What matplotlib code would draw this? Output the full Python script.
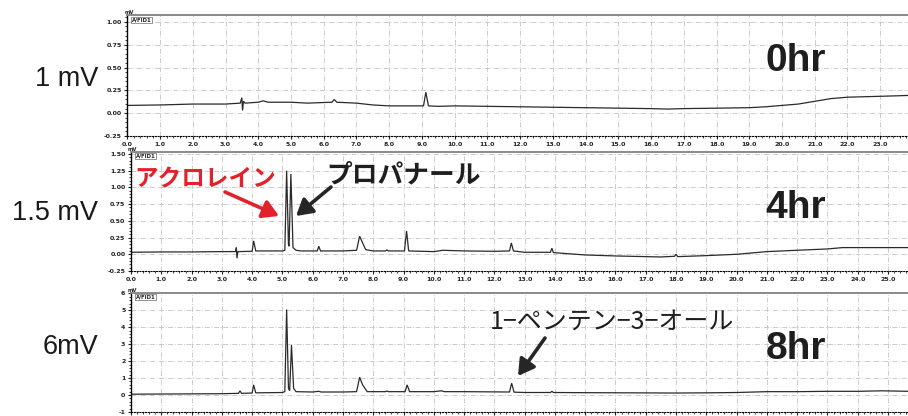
import matplotlib
matplotlib.use("Agg")
import matplotlib.pyplot as plt
from matplotlib.ticker import MultipleLocator, FormatStrFormatter

# ---------------- data ----------------
panel_labels = ["1 mV", "1.5 mV", "6mV"]
time_labels = ["0hr", "4hr", "8hr"]

t0 = [0.0, 1.0, 2.0, 3.0, 3.45, 3.5, 3.52, 3.55, 3.6, 4.0, 4.15, 4.3, 5.0, 5.5,
      6.25, 6.32, 6.4, 7.0, 7.5, 8.0, 8.5, 9.05, 9.12, 9.2, 9.5, 10.0, 11.0, 12.0,
      13.0, 14.0, 15.0, 16.0, 16.5, 17.0, 18.0, 19.0, 19.5, 20.0, 20.5, 21.0, 21.5,
      22.0, 22.5, 23.0, 23.5, 23.9]
s0 = [0.085, 0.09, 0.10, 0.10, 0.11, 0.17, 0.03, 0.13, 0.11, 0.12, 0.135, 0.12, 0.12, 0.11,
      0.12, 0.15, 0.12, 0.11, 0.09, 0.08, 0.08, 0.08, 0.23, 0.08, 0.075, 0.08, 0.075, 0.07,
      0.065, 0.06, 0.055, 0.05, 0.045, 0.05, 0.055, 0.06, 0.07, 0.085, 0.10, 0.13, 0.16,
      0.175, 0.18, 0.185, 0.19, 0.195]

t4 = [0.0, 1.0, 2.0, 3.0, 3.45, 3.48, 3.5, 3.53, 4.0, 4.05, 4.12, 5.0, 5.08, 5.14, 5.2,
      5.22, 5.28, 5.35, 5.45, 5.6, 6.15, 6.2, 6.26, 7.0, 7.45, 7.55, 7.62, 7.75, 8.0,
      8.4, 8.45, 8.5, 9.03, 9.1, 9.17, 10.0, 10.3, 11.0, 12.0, 12.5, 12.56, 12.63, 13.0,
      13.85, 13.9, 13.95, 15.0, 16.0, 17.0, 17.5, 17.95, 18.0, 18.05, 19.0, 20.0, 20.5,
      21.0, 22.0, 23.0, 23.5, 24.0, 25.0, 25.7]
s4 = [0.03, 0.035, 0.035, 0.04, 0.04, 0.10, -0.06, 0.04, 0.045, 0.20, 0.05, 0.05, 0.06, 1.25, 0.15,
      0.12, 1.20, 0.10, 0.06, 0.05, 0.05, 0.12, 0.05, 0.05, 0.06, 0.27, 0.20, 0.07, 0.05,
      0.05, 0.065, 0.05, 0.05, 0.35, 0.05, 0.04, 0.06, 0.05, 0.045, 0.05, 0.17, 0.05, 0.03,
      0.03, 0.09, 0.025, -0.01, -0.025, -0.035, -0.04, -0.03, 0.0, -0.035, -0.02, 0.0, 0.02,
      0.04, 0.06, 0.08, 0.10, 0.10, 0.10, 0.10]

t8 = [0.0, 1.0, 2.0, 3.0, 3.55, 3.6, 3.65, 4.0, 4.05, 4.12, 5.0, 5.08, 5.14, 5.2, 5.24,
      5.3, 5.37, 5.45, 6.0, 6.2, 6.28, 7.0, 7.45, 7.55, 7.65, 7.8, 8.4, 8.45, 8.5, 9.05,
      9.12, 9.2, 10.0, 10.25, 10.35, 11.0, 12.5, 12.57, 12.65, 13.0, 13.85, 13.9, 13.95,
      15.0, 18.0, 19.0, 20.0, 21.0, 22.0, 23.0, 24.0, 24.8, 25.7]
s8 = [0.05, 0.06, 0.07, 0.08, 0.1, 0.25, 0.1, 0.12, 0.6, 0.13, 0.15, 0.2, 5.05, 0.4, 0.25,
      2.95, 0.4, 0.2, 0.18, 0.22, 0.18, 0.18, 0.2, 1.05, 0.6, 0.2, 0.2, 0.24, 0.2, 0.2,
      0.6, 0.2, 0.2, 0.25, 0.2, 0.2, 0.18, 0.7, 0.17, 0.15, 0.15, 0.22, 0.15,
      0.14, 0.12, 0.13, 0.15, 0.2, 0.2, 0.22, 0.22, 0.25, 0.22]

traces = [(t0, s0), (t4, s4), (t8, s8)]
ylims = [(-0.25, 1.07), (-0.25, 1.53), (-1.0, 6.05)]
xmaxs = [23.85, 25.66, 25.66]
ymajor = [0.25, 0.25, 1.0]
yfmt = ["%.2f", "%.2f", "%d"]

# ---------------- figure ----------------
W, H = 908, 416
fig = plt.figure(figsize=(W / 100, H / 100), dpi=100)
fig.patch.set_facecolor("white")

def fx(x):
    return x / W

def fy(y):
    return 1 - y / H

# axes boxes in pixel coords: left, top, bottom
boxes = [(127.3, 15.5, 136.0), (131.0, 152.0, 271.0), (131.0, 292.5, 412.0)]

jp = ["Noto Sans CJK JP", "DejaVu Sans"]

for i, ((t, s), (l, top, bot)) in enumerate(zip(traces, boxes)):
    ax = fig.add_axes([fx(l), fy(bot), 1 - fx(l), (bot - top) / H])
    ax.plot(t, s, color="#2a2a2a", lw=0.9, solid_joinstyle="miter")
    ax.set_xlim(0, xmaxs[i])
    ax.set_ylim(*ylims[i])
    ax.xaxis.set_major_locator(MultipleLocator(1.0))
    ax.xaxis.set_minor_locator(MultipleLocator(0.2))
    ax.xaxis.set_major_formatter(FormatStrFormatter("%.1f"))
    ax.yaxis.set_major_locator(MultipleLocator(ymajor[i]))
    ax.yaxis.set_minor_locator(MultipleLocator(ymajor[i] / 5))
    ax.yaxis.set_major_formatter(FormatStrFormatter(yfmt[i]))
    ax.grid(True, which="major", color="#c4c4c4", lw=0.6, linestyle=(0, (6, 2, 1, 2)))
    ax.tick_params(axis="both", which="major", labelsize=4.5, length=2.5, width=0.8,
                   pad=1.5, colors="#222222")
    ax.tick_params(axis="both", which="minor", length=1.5, width=0.6, colors="#222222")
    if i == 2:
        # the bottom panel's time labels fall below the picture's edge
        ax.tick_params(axis="x", labelbottom=False)
    for lab in ax.get_xticklabels() + ax.get_yticklabels():
        lab.set_fontweight("bold")
    ax.spines["right"].set_visible(False)
    ax.spines["top"].set_color("#8a8a8a")
    ax.spines["top"].set_linewidth(1.4)
    ax.spines["left"].set_linewidth(1.0)
    ax.spines["bottom"].set_linewidth(0.8)
    ax.spines["bottom"].set_linestyle((0, (1, 1.5)))
    # small header texts
    ax.text(-0.004, 1.0, "mV", transform=ax.transAxes, fontsize=3.8, fontweight="bold",
            ha="left", va="bottom", color="#222222")
    ax.text(0.006, 0.985, "A/FID1", transform=ax.transAxes, fontsize=3.8, fontweight="bold",
            ha="left", va="top", color="#222222",
            bbox=dict(boxstyle="square,pad=0.1", fc="white", ec="#444444", lw=0.4))

# left scale labels
for lab, yc in zip(panel_labels, [78.5, 212.5, 346.5]):
    fig.text(fx(98), fy(yc), lab, fontsize=19.5, ha="right", va="center",
             family=["Liberation Sans", "DejaVu Sans"], color="#1a1a1a")

# time labels
for lab, yc in zip(time_labels, [61, 208, 349]):
    fig.text(fx(796), fy(yc), lab, fontsize=28, fontweight="bold", ha="center",
             va="center", family=["Liberation Sans", "DejaVu Sans"], color="#1e1e1e")

# compound annotations
fig.text(fx(205), fy(179), "アクロレイン", fontsize=17, fontweight="bold", color="#e3212b",
         ha="center", va="center", family=jp)
fig.text(fx(404), fy(175), "プロパナール", fontsize=18.5, fontweight="bold", color="#1e1e1e",
         ha="center", va="center", family=jp)
fig.text(fx(612), fy(322), "1−ペンテン−3−オール", fontsize=18, color="#1e1e1e",
         ha="center", va="center", family=jp)

arrows = [((225, 192), (279, 216), "#e3212b"),
          ((331, 187), (296, 216), "#262626"),
          ((545, 338), (518, 376), "#262626")]
for (x0, y0), (x1, y1), c in arrows:
    fig.add_artist(matplotlib.patches.FancyArrowPatch(
        (fx(x0), fy(y0)), (fx(x1), fy(y1)), transform=fig.transFigure,
        arrowstyle="-|>,head_length=0.6,head_width=0.35", mutation_scale=16,
        lw=2.6, color=c, shrinkA=0, shrinkB=0))

fig.savefig("out.png", dpi=100, facecolor="white")
